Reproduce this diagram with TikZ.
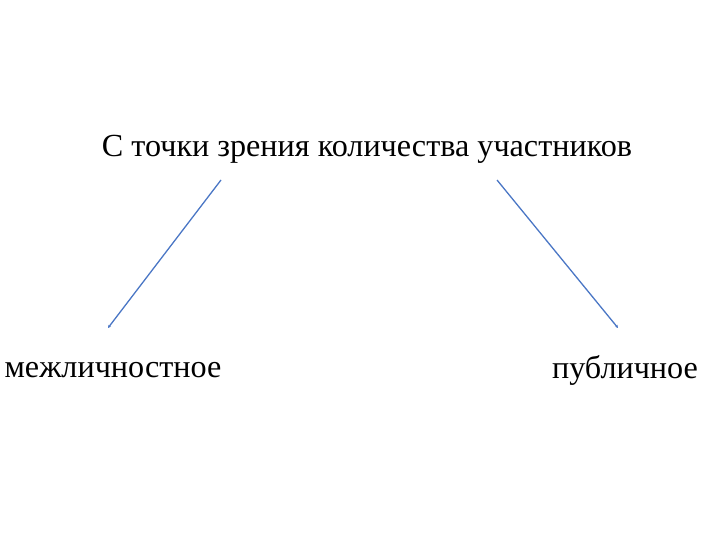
\documentclass[tikz,border=0pt]{standalone}
\usepackage{fontspec}
\setmainfont{Liberation Serif}
\usetikzlibrary{arrows.meta}
\definecolor{linkblue}{HTML}{4A76C5}
\tikzstyle{headnode} = [inner sep=0pt, font=\fontsize{32.3}{38}\selectfont]
\tikzstyle{leafnode} = [inner sep=0pt, font=\fontsize{32.3}{38}\selectfont]
\tikzstyle{link} = [draw=linkblue, line width=1.3pt, -{Stealth[length=3pt,width=3pt]}]

\begin{document}
\begin{tikzpicture}[x=1bp, y=-1bp]
    \useasboundingbox (0,0) rectangle (720,540);
    \node[headnode] (head) at (367,149) {С точки зрения количества участников};
    \node[leafnode] (inter) at (113,370) {межличностное};
    \node[leafnode] (pub) at (625,370) {публичное};

    \coordinate (inter_top) at (221,180);
    \coordinate (inter_end) at (108,328);
    \coordinate (pub_top) at (497,180);
    \coordinate (pub_end) at (618,328);
    \draw[link] (inter_top) -- (inter_end);
    \draw[link] (pub_top) -- (pub_end);
\end{tikzpicture}
\end{document}
